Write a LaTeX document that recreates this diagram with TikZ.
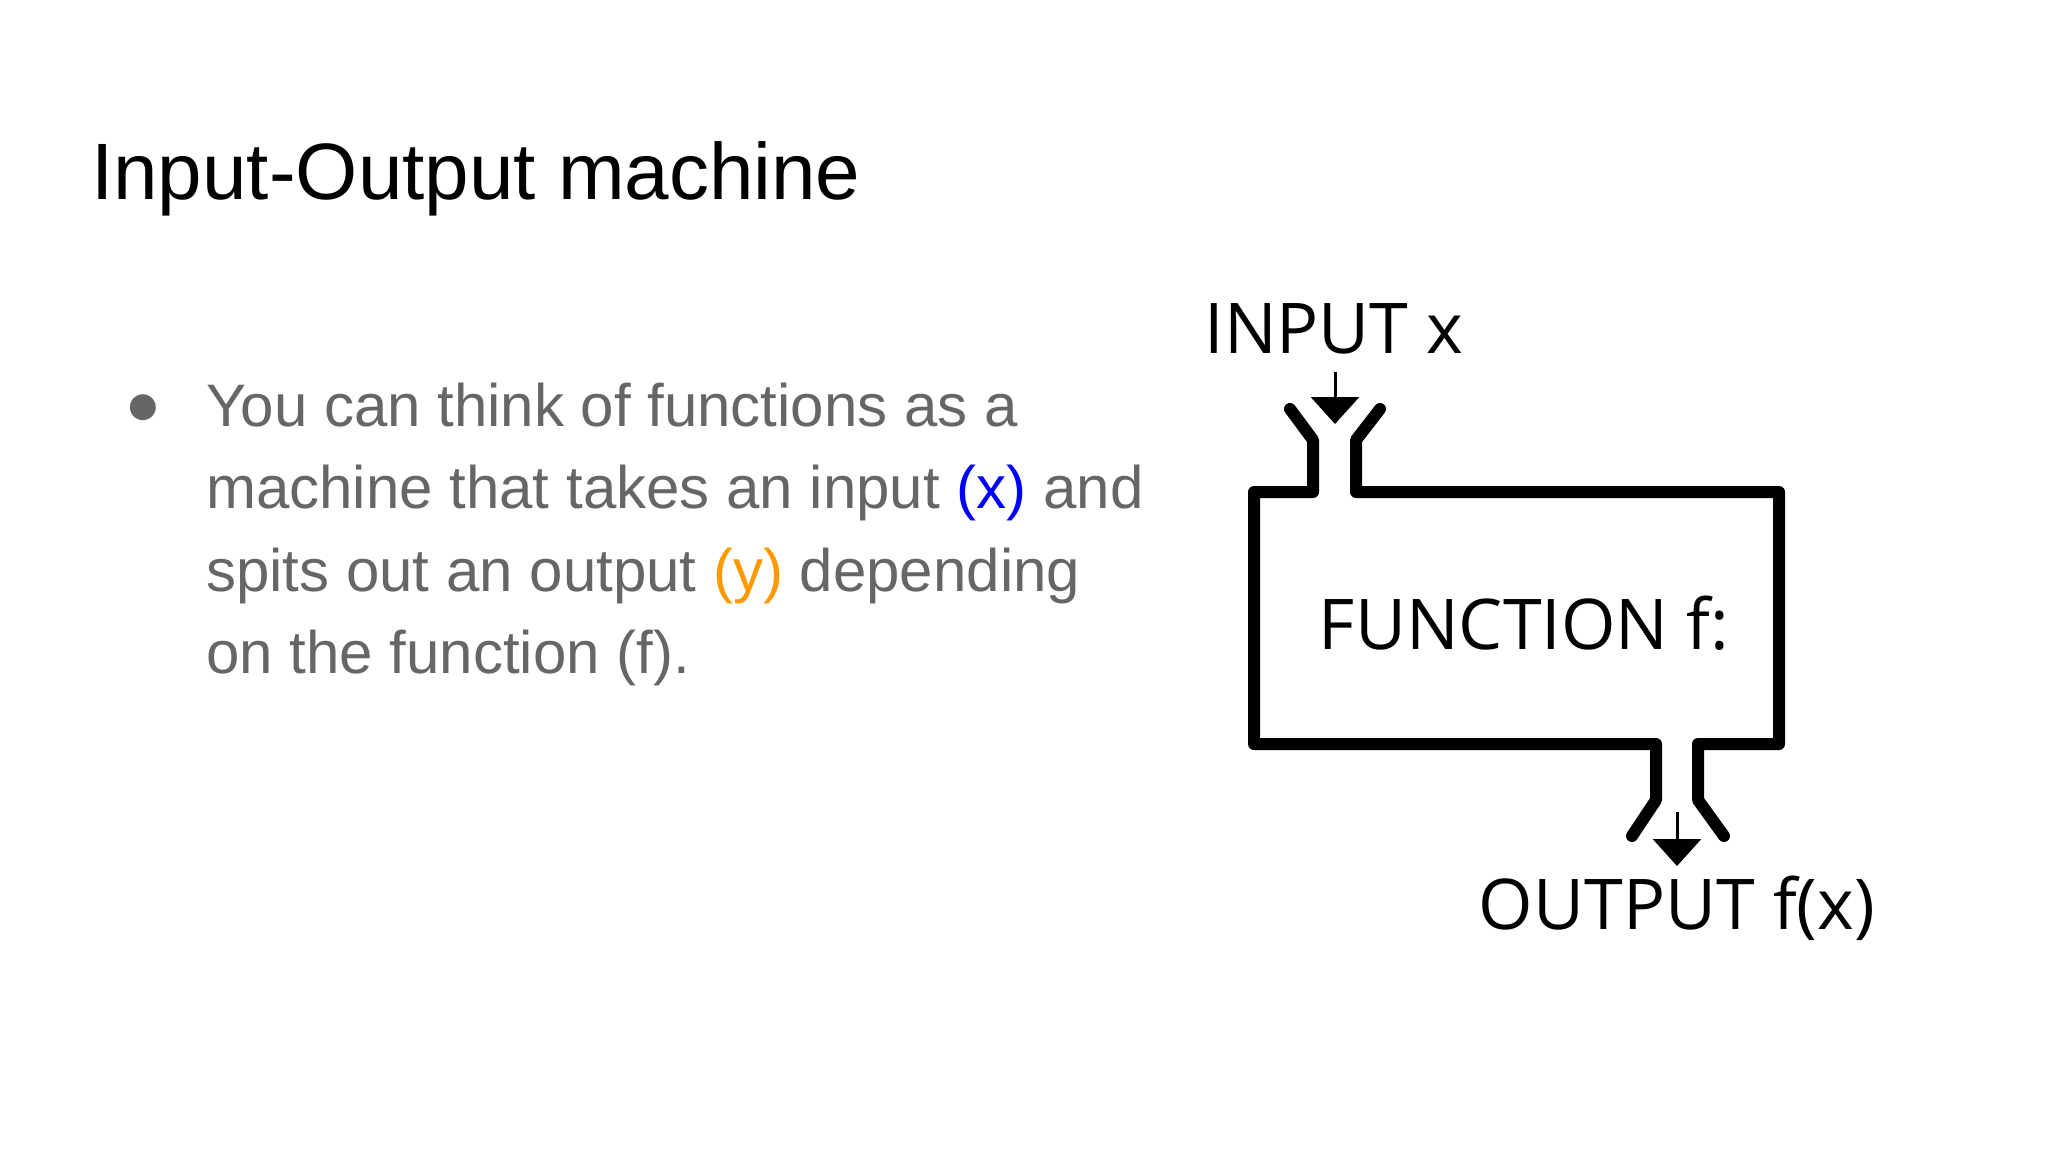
\documentclass[tikz,border=0pt]{standalone}
\usepackage{fontspec}
\setmainfont{Liberation Sans}
\newfontfamily\diag{Open Sans}
\newfontfamily\sym{DejaVu Sans}
\usetikzlibrary{arrows.meta}
\definecolor{bodygray}{HTML}{666666}
\definecolor{xblue}{HTML}{0000FF}
\definecolor{yorange}{HTML}{FF9900}
\tikzset{
  wall/.style={line width=12pt, line join=round, line cap=round},
  flow/.style={line width=3pt, -{Triangle[width=48pt,length=27pt]}},
  bodyline/.style={anchor=base west, inner sep=0pt, text=bodygray, font=\fontsize{60}{72}\selectfont},
  dlabel/.style={inner sep=0pt, font=\diag\fontsize{70}{80}\selectfont}
}
\begin{document}
\begin{tikzpicture}[x=1pt,y=-1pt]
\useasboundingbox[fill=white] (0,0) rectangle (2048,1152);
\node[anchor=base west, inner sep=0pt, font=\fontsize{80}{96}\selectfont] (title) at (91,199) {Input-Output machine};
\node[anchor=center, inner sep=0pt, text=bodygray, font=\sym\fontsize{34}{40}\selectfont] (bullet) at (143,408) {●};
\node[bodyline] (l1) at (206,426) {You can think of functions as a};
\node[bodyline] (l2) at (206,508) {machine that takes an input \textcolor{xblue}{(x)} and};
\node[bodyline] (l3) at (206,591) {spits out an output \textcolor{yorange}{(y)} depending};
\node[bodyline] (l4) at (206,673) {on the function (f).};
% machine
\draw[wall] (1290,409) -- (1313,440) -- (1313,492) -- (1254,492) -- (1254,744) -- (1656,744) -- (1656,800) -- (1632,836);
\draw[wall] (1380,409) -- (1356,440) -- (1356,492) -- (1779,492) -- (1779,744) -- (1698,744) -- (1698,800) -- (1724,836);
\node[dlabel] (fn) at (1524,623) {FUNCTION f:};
\node[dlabel] (in) at (1334,329) {INPUT x};
\node[dlabel] (out) at (1677,908) {OUTPUT f(x)};
\coordinate (ina) at (1335,372);
\coordinate (inb) at (1335,424);
\coordinate (outa) at (1677,812);
\coordinate (outb) at (1677,866);
\draw[flow] (ina) -- (inb);
\draw[flow] (outa) -- (outb);
\end{tikzpicture}
\end{document}
